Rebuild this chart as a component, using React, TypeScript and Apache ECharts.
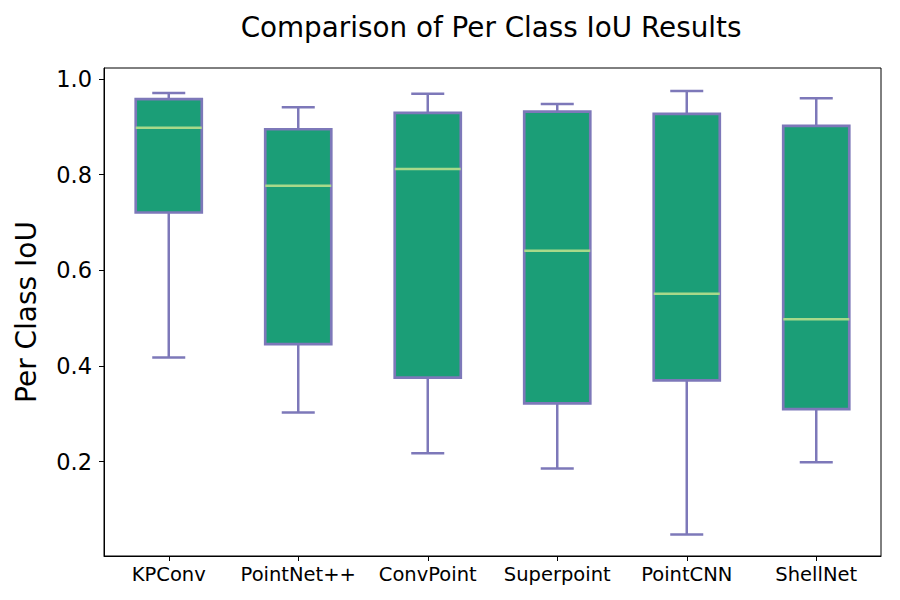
import React, { useEffect, useRef } from "react";
import * as echarts from "echarts";

const categories = ["KPConv", "PointNet++", "ConvPoint", "Superpoint", "PointCNN", "ShellNet"];
const whiskerLow = [0.418, 0.303, 0.218, 0.186, 0.048, 0.199];
const q1 = [0.721, 0.446, 0.376, 0.322, 0.370, 0.310];
const median = [0.898, 0.777, 0.812, 0.641, 0.551, 0.498];
const q3 = [0.958, 0.895, 0.929, 0.932, 0.927, 0.902];
const whiskerHigh = [0.971, 0.941, 0.969, 0.948, 0.975, 0.960];
const yTicks = [0.2, 0.4, 0.6, 0.8, 1.0];

const FONT = "DejaVu Sans";
const PURPLE = "#7d78b9";
const TEAL = "#1b9e77";
const MEDIAN = "#a8d98a";

export default function App() {
  const ref = useRef<HTMLDivElement>(null);
  useEffect(() => {
    document.body.style.margin = "0";
    if (!ref.current) return;
    const chart = echarts.init(ref.current, null, { renderer: "svg" });
    const data = categories.map((_, i) => [i, whiskerLow[i], q1[i], median[i], q3[i], whiskerHigh[i]]);
    chart.setOption({
      animation: false,
      backgroundColor: "#ffffff",
      title: {
        text: "Comparison of Per Class IoU Results",
        left: 486,
        top: 8,
        textAlign: "center",
        textStyle: { fontFamily: FONT, fontSize: 27.8, fontWeight: "normal", color: "#000" },
      },
      grid: {
        left: 104,
        right: 19,
        top: 68,
        bottom: 44,
        show: true,
        borderColor: "#000",
        borderWidth: 1,
        backgroundColor: "transparent",
      },
      xAxis: {
        type: "category",
        data: categories,
        boundaryGap: true,
        axisLine: { show: true, lineStyle: { color: "#000", width: 1 } },
        axisTick: { show: true, alignWithLabel: true, interval: 0, length: 5, lineStyle: { color: "#000" } },
        axisLabel: { fontFamily: FONT, fontSize: 19.5, color: "#000", margin: 8, interval: 0 },
        splitLine: { show: false },
      },
      yAxis: {
        type: "value",
        min: 0.003,
        max: 1.023,
        name: "Per Class IoU",
        nameLocation: "middle",
        nameGap: 64,
        nameTextStyle: { fontFamily: FONT, fontSize: 28, color: "#000" },
        axisLine: { show: true, lineStyle: { color: "#000", width: 1 } },
        axisTick: { show: true, length: 5, lineStyle: { color: "#000" }, customValues: yTicks },
        axisLabel: {
          fontFamily: FONT,
          fontSize: 22.5,
          color: "#000",
          margin: 12,
          customValues: yTicks,
          formatter: (v: number) => v.toFixed(1),
        },
        splitLine: { show: false },
      },
      series: [
        {
          type: "custom",
          data,
          encode: { x: 0, y: [1, 2, 3, 4, 5] },
          renderItem: (params: any, api: any) => {
            const idx = api.value(0);
            const pMin = api.coord([idx, api.value(1)]);
            const pQ1 = api.coord([idx, api.value(2)]);
            const pMed = api.coord([idx, api.value(3)]);
            const pQ3 = api.coord([idx, api.value(4)]);
            const pMax = api.coord([idx, api.value(5)]);
            const band = api.size([1, 0])[0];
            const boxW = band * 0.51;
            const capW = boxW / 2;
            const x = pMin[0];
            const lineStyle = { stroke: PURPLE, lineWidth: 2.5 };
            return {
              type: "group",
              children: [
                { type: "line", shape: { x1: x, y1: pQ1[1], x2: x, y2: pMin[1] }, style: lineStyle },
                { type: "line", shape: { x1: x, y1: pQ3[1], x2: x, y2: pMax[1] }, style: lineStyle },
                { type: "line", shape: { x1: x - capW / 2, y1: pMin[1], x2: x + capW / 2, y2: pMin[1] }, style: lineStyle },
                { type: "line", shape: { x1: x - capW / 2, y1: pMax[1], x2: x + capW / 2, y2: pMax[1] }, style: lineStyle },
                {
                  type: "rect",
                  shape: { x: x - boxW / 2, y: pQ3[1], width: boxW, height: pQ1[1] - pQ3[1] },
                  style: { fill: TEAL, stroke: PURPLE, lineWidth: 2.7 },
                },
                {
                  type: "line",
                  shape: { x1: x - boxW / 2, y1: pMed[1], x2: x + boxW / 2, y2: pMed[1] },
                  style: { stroke: MEDIAN, lineWidth: 2.5 },
                },
              ],
            };
          },
        },
      ],
    });
    return () => chart.dispose();
  }, []);
  return <div ref={ref} style={{ width: 900, height: 600 }} />;
}
